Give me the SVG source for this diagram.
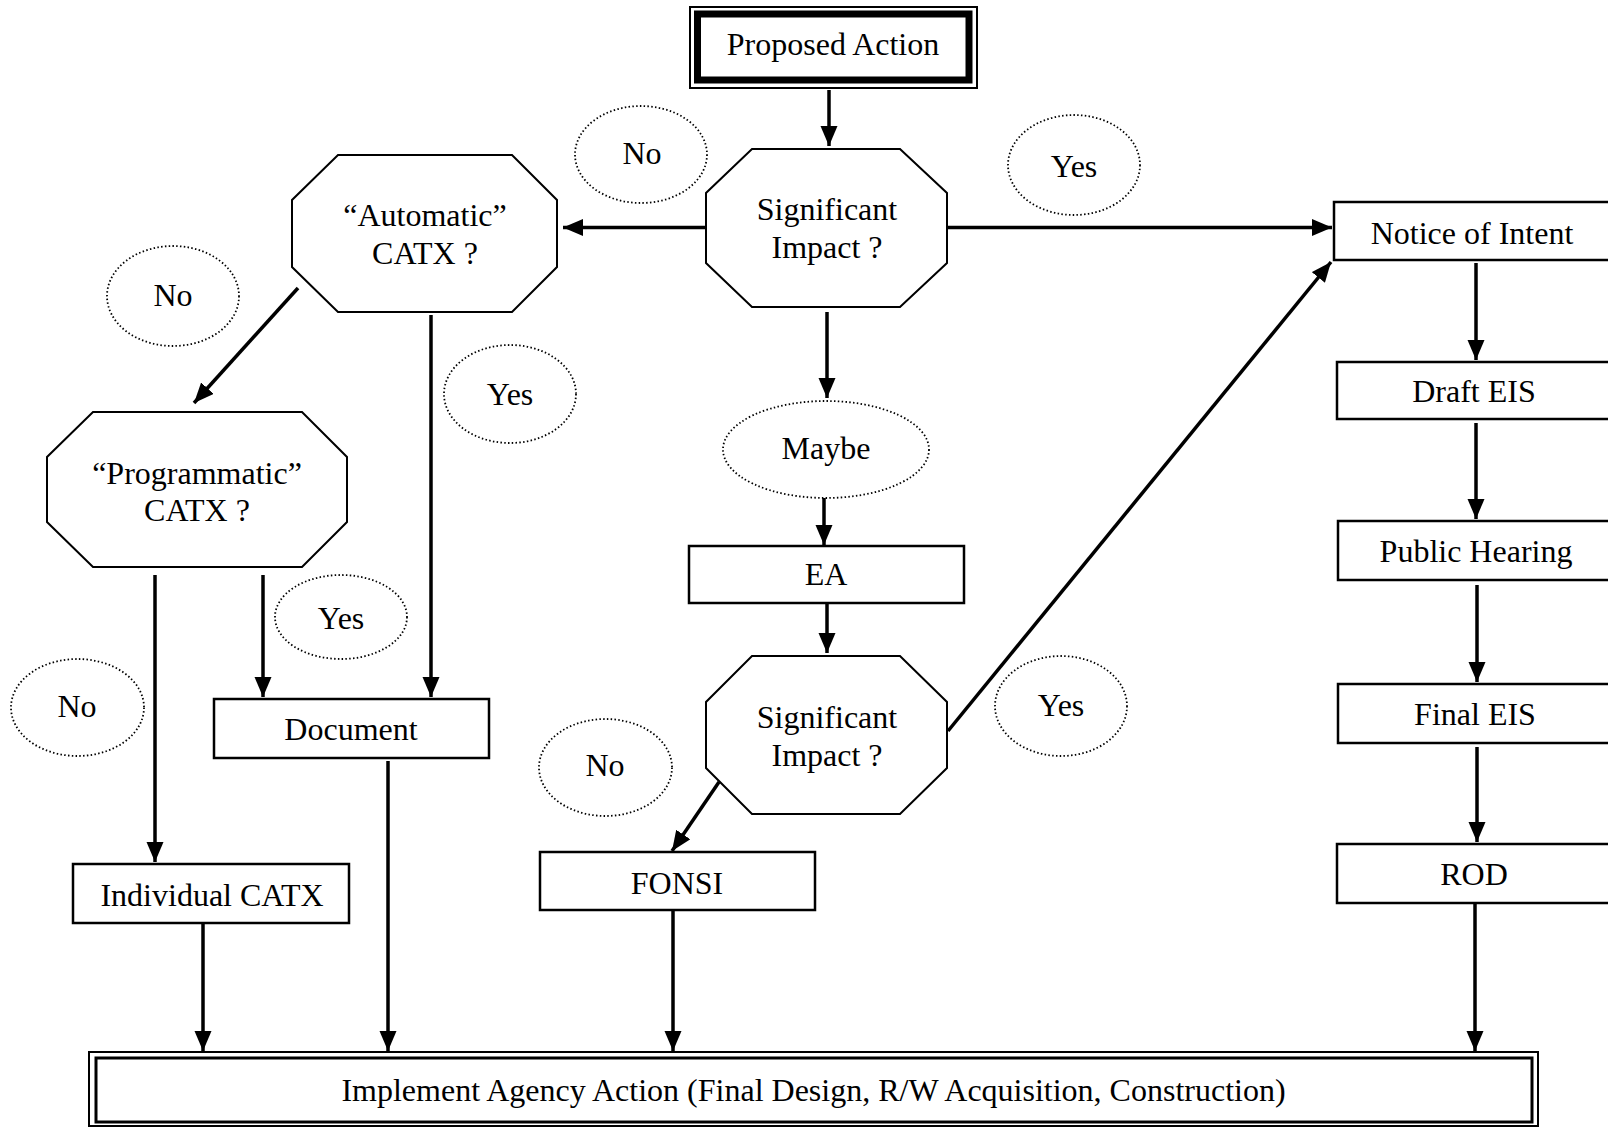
<svg xmlns="http://www.w3.org/2000/svg" width="1608" height="1127" viewBox="0 0 1608 1127">
<style>
text{font-family:"Liberation Serif","Times New Roman",serif;font-size:32px;fill:#000;text-anchor:middle}
.box{fill:#fff;stroke:#000;stroke-width:2.5}
.oct{fill:#fff;stroke:#000;stroke-width:2}
.lbl{fill:none;stroke:#000;stroke-width:1.8;stroke-dasharray:1.5 2.3}
.con line{stroke:#000;stroke-width:3.5;marker-end:url(#ah)}
</style>
<defs>
<marker id="ah" markerUnits="userSpaceOnUse" markerWidth="22" markerHeight="20" refX="20" refY="8.5" orient="auto">
<path d="M0,0 L20,8.5 L0,17 Z" fill="#000"/>
</marker>
</defs>
<rect width="1608" height="1127" fill="#fff"/>

<g class="con" id="connectors">
<line x1="829" y1="90" x2="829" y2="146"/>
<line x1="706" y1="227.5" x2="563" y2="227.5"/>
<line x1="947" y1="227.5" x2="1332" y2="227.5"/>
<line x1="827" y1="312" x2="827" y2="398"/>
<line x1="824" y1="498" x2="824" y2="545"/>
<line x1="827" y1="603" x2="827" y2="653"/>
<line x1="948" y1="731" x2="1331" y2="262"/>
<line x1="719" y1="782" x2="672" y2="851"/>
<line x1="298" y1="288" x2="194" y2="403"/>
<line x1="431" y1="315" x2="431" y2="697"/>
<line x1="155" y1="575" x2="155" y2="862"/>
<line x1="263" y1="575" x2="263" y2="697"/>
<line x1="203" y1="923" x2="203" y2="1051"/>
<line x1="388" y1="761" x2="388" y2="1051"/>
<line x1="673" y1="910" x2="673" y2="1051"/>
<line x1="1475" y1="903" x2="1475" y2="1051"/>
<line x1="1476" y1="263" x2="1476" y2="360"/>
<line x1="1476" y1="423" x2="1476" y2="519"/>
<line x1="1477" y1="585" x2="1477" y2="682"/>
<line x1="1477" y1="747" x2="1477" y2="842"/>
</g>

<g id="proposed-action">
<rect x="690" y="7" width="287" height="81" fill="#fff" stroke="#000" stroke-width="2"/>
<rect x="697.5" y="14" width="271.5" height="66" fill="none" stroke="#000" stroke-width="7"/>
<text x="833" y="55">Proposed Action</text>
</g>

<g id="sig-impact-1">
<polygon class="oct" points="752,149 900,149 947,193 947,263 900,307 752,307 706,263 706,193"/>
<text x="827" y="220">Significant</text>
<text x="827" y="258">Impact ?</text>
</g>

<g id="automatic-catx">
<polygon class="oct" points="338,155 512,155 557,200 557,267 512,312 338,312 292,267 292,200"/>
<text x="425" y="226">“Automatic”</text>
<text x="425" y="264">CATX ?</text>
</g>

<g id="programmatic-catx">
<polygon class="oct" points="93,412 302,412 347,457 347,522 302,567 93,567 47,522 47,457"/>
<text x="197" y="484">“Programmatic”</text>
<text x="197" y="521">CATX ?</text>
</g>

<g id="sig-impact-2">
<polygon class="oct" points="752,656 900,656 947,702 947,768 900,814 752,814 706,768 706,702"/>
<text x="827" y="728">Significant</text>
<text x="827" y="766">Impact ?</text>
</g>

<g id="notice-of-intent">
<rect class="box" x="1334" y="202" width="280" height="58"/>
<text x="1472" y="244">Notice of Intent</text>
</g>
<g id="draft-eis">
<rect class="box" x="1337" y="362" width="276" height="57"/>
<text x="1474" y="402">Draft EIS</text>
</g>
<g id="public-hearing">
<rect class="box" x="1338" y="521" width="276" height="59"/>
<text x="1476" y="562">Public Hearing</text>
</g>
<g id="final-eis">
<rect class="box" x="1338" y="684" width="276" height="59"/>
<text x="1475" y="725">Final EIS</text>
</g>
<g id="rod">
<rect class="box" x="1337" y="844" width="276" height="59"/>
<text x="1474" y="885">ROD</text>
</g>
<g id="ea">
<rect class="box" x="689" y="546" width="275" height="57"/>
<text x="826" y="585">EA</text>
</g>
<g id="document">
<rect class="box" x="214" y="699" width="275" height="59"/>
<text x="351" y="740">Document</text>
</g>
<g id="individual-catx">
<rect class="box" x="73" y="864" width="276" height="59"/>
<text x="212" y="906">Individual CATX</text>
</g>
<g id="fonsi">
<rect class="box" x="540" y="852" width="275" height="58"/>
<text x="677" y="894">FONSI</text>
</g>

<g id="implement">
<rect x="89" y="1052" width="1449" height="74" fill="#fff" stroke="#000" stroke-width="2"/>
<rect x="96" y="1058" width="1436" height="64" fill="none" stroke="#000" stroke-width="3"/>
<text x="813.5" y="1101">Implement Agency Action (Final Design, R/W Acquisition, Construction)</text>
</g>

<g id="labels">
<g id="lbl-no-1"><ellipse class="lbl" cx="641" cy="154.5" rx="66" ry="48.5"/><text x="642" y="164">No</text></g>
<g id="lbl-yes-1"><ellipse class="lbl" cx="1074" cy="165" rx="66" ry="50"/><text x="1074" y="177">Yes</text></g>
<g id="lbl-no-2"><ellipse class="lbl" cx="173" cy="296" rx="66" ry="50"/><text x="173" y="306">No</text></g>
<g id="lbl-yes-2"><ellipse class="lbl" cx="510" cy="394" rx="66" ry="49"/><text x="510" y="405">Yes</text></g>
<g id="lbl-maybe"><ellipse class="lbl" cx="826" cy="449.5" rx="103" ry="48.5"/><text x="826" y="459">Maybe</text></g>
<g id="lbl-yes-3"><ellipse class="lbl" cx="341" cy="617" rx="66" ry="42"/><text x="341" y="629">Yes</text></g>
<g id="lbl-no-3"><ellipse class="lbl" cx="77.5" cy="707.5" rx="66.5" ry="48.5"/><text x="77" y="717">No</text></g>
<g id="lbl-yes-4"><ellipse class="lbl" cx="1061" cy="706" rx="66" ry="50"/><text x="1061" y="716">Yes</text></g>
<g id="lbl-no-4"><ellipse class="lbl" cx="605.5" cy="767.5" rx="66.5" ry="48.5"/><text x="605" y="776">No</text></g>
</g>
</svg>
